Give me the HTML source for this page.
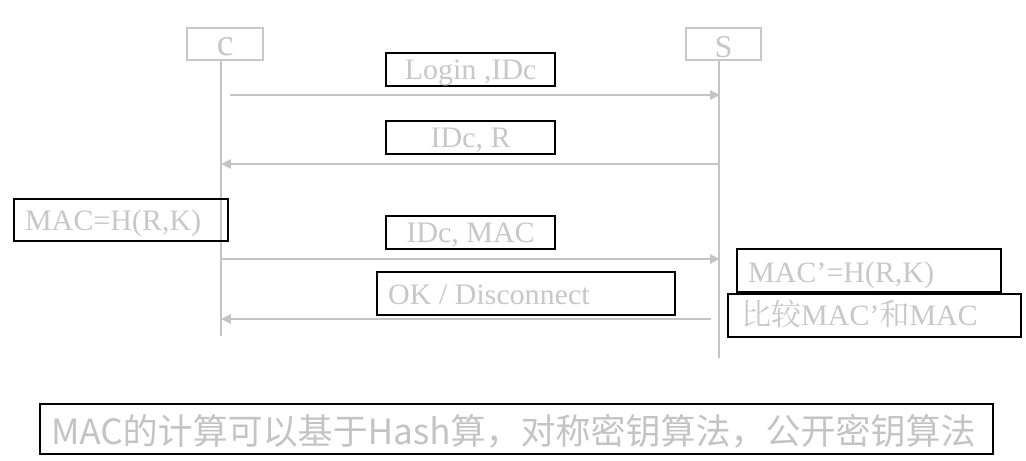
<!DOCTYPE html>
<html><head><meta charset="utf-8"><style>
html,body{margin:0;padding:0;background:#fff;}
body{width:1026px;height:461px;position:relative;overflow:hidden;font-family:"Liberation Serif","Noto Serif CJK SC",serif;color:#c8c8c8;}
.b{position:absolute;box-sizing:border-box;border:2px solid #000;white-space:nowrap;}
.g{position:absolute;box-sizing:border-box;border:2px solid #c8c8c8;text-align:center;overflow:hidden;}
.t{font-size:30px;line-height:30px;}
</style></head><body>
<svg width="1026" height="461" style="position:absolute;left:0;top:0">
<g stroke="#c4c4c4" stroke-width="2" fill="none">
<line x1="221" y1="61" x2="221" y2="336"/>
<line x1="719" y1="61" x2="719" y2="358"/>
<line x1="230" y1="95" x2="712" y2="95"/>
<line x1="228" y1="164" x2="719" y2="164"/>
<line x1="221" y1="259" x2="712" y2="259"/>
<line x1="228" y1="319" x2="711" y2="319"/>
</g>
<g fill="#c4c4c4">
<polygon points="720,95 710,90 710,100"/>
<polygon points="221,164 231,159 231,169"/>
<polygon points="720,259 710,254 710,264"/>
<polygon points="221,319 231,314 231,324"/>
</g>
</svg>
<div class="g" style="left:186px;top:27px;width:78px;height:34px;font-size:38px;line-height:28px;">c</div>
<div class="g" style="left:685px;top:27px;width:77px;height:34px;font-size:32px;line-height:34px;">S</div>
<div class="b t" style="left:385px;top:52px;width:171px;height:35px;text-align:center;line-height:32px;">Login ,IDc</div>
<div class="b t" style="left:385px;top:120px;width:171px;height:35px;text-align:center;line-height:32px;">IDc, R</div>
<div class="b t" style="left:385px;top:215px;width:171px;height:35px;text-align:center;line-height:32px;">IDc, MAC</div>
<div class="b t" style="left:376px;top:271px;width:300px;height:45px;padding-left:10px;line-height:44px;">OK / Disconnect</div>
<div class="b t" style="left:13px;top:198px;width:216px;height:44px;padding-left:10px;line-height:42px;">MAC=H(R,K)</div>
<div class="b t" style="left:736px;top:248px;width:266px;height:45px;padding-left:10px;line-height:46px;">MAC’=H(R,K)</div>
<div class="b t" style="left:727px;top:293px;width:295px;height:45px;padding-left:12px;line-height:42px;">比较MAC’和MAC</div>
<div class="b" style="left:39px;top:403px;width:955px;height:52px;padding-left:10px;font-family:'WenQuanYi Zen Hei','Noto Sans CJK SC',sans-serif;font-size:35px;line-height:50px;color:#c4c4c4;">MAC的计算可以基于Hash算，对称密钥算法，公开密钥算法</div>
</body></html>
